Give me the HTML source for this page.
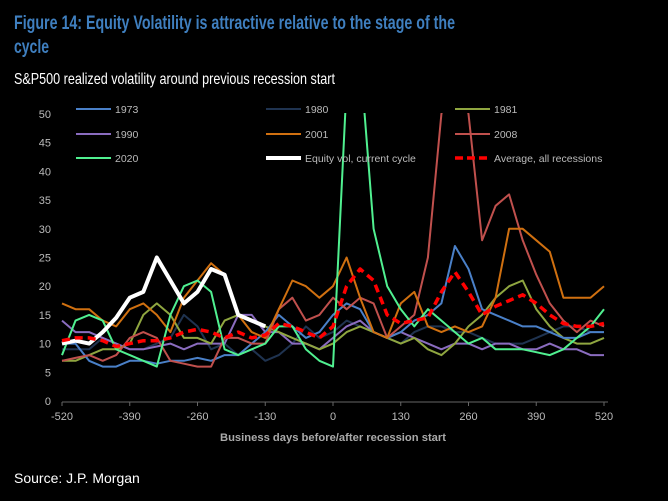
<!DOCTYPE html>
<html><head><meta charset="utf-8"><style>
body{margin:0;background:#000;}
svg{display:block;font-family:"Liberation Sans",Arial,sans-serif;}
</style></head><body>
<svg id="chart" width="668" height="501" viewBox="0 0 668 501">
<rect width="668" height="501" fill="#000"/>
<text x="14" y="29" fill="#3f7fbf" font-size="19" font-weight="bold" textLength="441" lengthAdjust="spacingAndGlyphs">Figure 14: Equity Volatility is attractive relative to the stage of the</text>
<text x="14" y="53" fill="#3f7fbf" font-size="19" font-weight="bold" textLength="35" lengthAdjust="spacingAndGlyphs">cycle</text>
<text x="14" y="84" fill="#fff" font-size="16" textLength="321" lengthAdjust="spacingAndGlyphs">S&amp;P500 realized volatility around previous recession start</text>
<text x="333" y="441" fill="#aaa" font-size="11" font-weight="bold" text-anchor="middle" textLength="226" lengthAdjust="spacingAndGlyphs">Business days before/after recession start</text>
<text x="14" y="483" fill="#fff" font-size="14">Source: J.P. Morgan</text>
<g id="axes"></g>
<defs><clipPath id="plotclip"><rect x="55" y="113" width="560" height="292"/></clipPath></defs>
<g id="series" clip-path="url(#plotclip)"></g>
<g id="legend"></g>
</svg>
<script>
const xTicks = [-520,-390,-260,-130,0,130,260,390,520];
const yTicks = [0,5,10,15,20,25,30,35,40,45,50];
const gridStart = -520, gridStep = 26;
const s1973 = [10,10,7,6,6,7,7,6.5,7,7,7.5,7,8,8,10,12,15,13,11,12,15,17,16,12,11,12,14,15,17,27,23,16,15,14,13,13,12,11,11,12,12];
const s1980 = [9,9,9,11,10,9,9,10,11,15,13,9,10,8,9,7,8,10,13,11,12,14,13,12,11,10,12,13,13,12,12,11,10,10,10,11,12,13,13,12,12];
const s1981 = [7,7,8,9,9,10,15,17,15,11,11,10,14,15,14,13,12,11,10,9,10,12,13,12,11,10,11,9,8,10,13,15,18,20,21,16,13,11,10,10,11];
const s1990 = [14,12,12,11,10,9,9,9.5,10,9,10,10,10,15,15,12,12,10,10,9,11,13,14,12,11,12,11,10,9,10,10,9,10,10,9,9,10,9,9,8,8];
const s2001 = [17,16,16,14,13,16,17,15,12,18,21,24,22,15,12,11,16,21,20,18,20,25,18,12,11,17,19,13,12,13,12,13,18,30,30,28,26,18,18,18,20];
const s2008 = [7,7.5,8,7,8,11,12,11,7,6.5,6,6,11,11,10,10,16,18,14,15,18,16,18,17,11,13,15,25,50,60,50,28,34,36,28,22,17,14,12,14,13];
const s2020 = [8,14,15,14,9,8,7,6,15,20,21,19,9,8,9,10,13,13,9,7,6,55,60,30,20,16,13,16,14,12,10,11,9,9,9,8.5,8,9,11,13,16];
const sCurrent = [10,10.5,10,12,14.5,18,19,25,21,17,19,23,22,15,14,13];
const sAverage = [10.5,11,11,10.5,9.5,10,10.5,10.5,11,12,12.5,12,11,12,11,11.5,13.5,13,12,11,13,20,23,21,15,13.5,14,14.5,19,22.5,19,15,16.5,17.5,18.5,17,15,13.5,13,13,13.5];

const NS='http://www.w3.org/2000/svg';
const X0=62,X1=604,Y0=401,Y50=114;
const xS=d=>X0+(d+520)*(X1-X0)/1040;
const yS=v=>Y0-v*(Y0-Y50)/50;
const axes=document.getElementById('axes');
function mk(tag,attrs,parent){const e=document.createElementNS(NS,tag);for(const k in attrs)e.setAttribute(k,attrs[k]);parent.appendChild(e);return e;}
const ax=mk('line',{x1:X0,x2:X1+4,y1:Y0+1,y2:Y0+1,stroke:'#666','stroke-width':1},axes);


xTicks.forEach(t=>{
  const tk=mk('line',{x1:xS(t),x2:xS(t),y1:Y0+1,y2:Y0+5,stroke:'#666'},axes);
  
  
  const lb=mk('text',{x:xS(t),y:Y0+19,fill:'#bbb','font-size':11,'text-anchor':'middle'},axes);
  lb.textContent=t;
  
  
});
yTicks.forEach(t=>{
  const lb=mk('text',{x:51,y:yS(t)+4,fill:'#bbb','font-size':11,'text-anchor':'end'},axes);
  lb.textContent=t;
  
  
});
const sg=document.getElementById('series');
function draw(arr,color,w,name,dash){
  const pts=arr.map((v,i)=>xS(gridStart+i*gridStep).toFixed(1)+','+yS(v).toFixed(1)).join(' ');
  const p=mk('polyline',{points:pts,fill:'none',stroke:color,'stroke-width':w,'stroke-linejoin':'round'},sg);
  if(dash)p.setAttribute('stroke-dasharray',dash);
  
  
}
draw(s1980,'#1f3350',2,'series-1980');
draw(s1990,'#8a6cbf',2,'series-1990');
draw(s1981,'#8fa640',2,'series-1981');
draw(s1973,'#4a80c8',2,'series-1973');
draw(s2008,'#c0504d',2,'series-2008');
draw(s2001,'#d07010',2,'series-2001');
draw(s2020,'#50f090',2,'series-2020');
draw(sCurrent,'#ffffff',4,'series-current-cycle');
draw(sAverage,'#ff0000',3.5,'series-average','8,5');
const lg=document.getElementById('legend');
const legend=[
 ['1973','#4a80c8',2,null,76,109],['1980','#1f3350',2,null,266,109],['1981','#8fa640',2,null,455,109],
 ['1990','#8a6cbf',2,null,76,134],['2001','#d07010',2,null,266,134],['2008','#c0504d',2,null,455,134],
 ['2020','#50f090',2,null,76,158],['Equity vol, current cycle','#ffffff',4,null,266,158],['Average, all recessions','#ff0000',3.5,'8,4',455,158]];
legend.forEach(l=>{
  const g=mk('g',{},lg);
  
  
  const ln=mk('line',{x1:l[4],x2:l[4]+35,y1:l[5],y2:l[5],stroke:l[1],'stroke-width':l[2]},g);
  if(l[3])ln.setAttribute('stroke-dasharray',l[3]);
  const t=mk('text',{x:l[4]+39,y:l[5]+4,fill:'#bbb','font-size':10.5},g);
  t.textContent=l[0];
});
</script>
</body></html>
